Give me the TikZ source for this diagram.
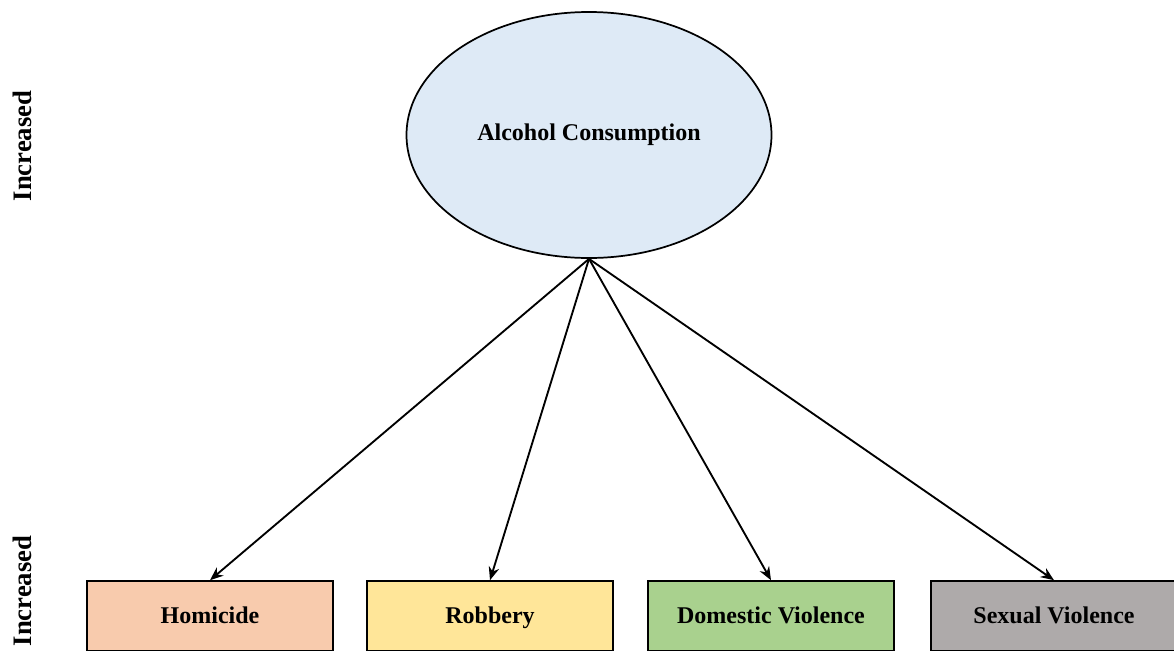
\documentclass[tikz,border=0pt]{standalone}
\usepackage{fontspec}
\setmainfont{Liberation Serif}
\usetikzlibrary{shapes.geometric,arrows.meta}
\definecolor{alcfill}{HTML}{DEEAF6}
\definecolor{homfill}{HTML}{F8CBAD}
\definecolor{robfill}{HTML}{FFE699}
\definecolor{domfill}{HTML}{A9D18E}
\definecolor{sexfill}{HTML}{AEAAAA}
\tikzset{
  causebox/.style={ellipse, draw=black, line width=1.3pt, fill=alcfill,
    minimum width=365*0.75pt, minimum height=246*0.75pt, inner sep=0pt,
    font=\fontsize{18}{20}\selectfont\bfseries},
  outcome/.style={rectangle, draw=black, line width=1.2pt,
    minimum width=246*0.75pt, minimum height=70*0.75pt, inner sep=0pt,
    text height=12.5pt, text depth=2pt,
    font=\fontsize{18}{20}\selectfont\bfseries},
  sidelabel/.style={rotate=90, inner sep=0pt, font=\fontsize{20}{22}\selectfont\bfseries},
  effect/.style={-{Stealth[length=10pt,width=8pt]}, line width=1.4pt, black}
}
\begin{document}
\begin{tikzpicture}[x=0.75pt,y=-0.75pt]
  \useasboundingbox (0,0) rectangle (1174,650);
  \node[causebox] (alc) at (589,135) {\raisebox{-2pt}{Alcohol Consumption}};
  \node[outcome, fill=homfill] (hom) at (210,616) {Homicide};
  \node[outcome, fill=robfill] (rob) at (490,616) {Robbery};
  \node[outcome, fill=domfill] (dom) at (771,616) {Domestic Violence};
  \node[outcome, fill=sexfill] (sex) at (1054,616) {Sexual Violence};
  \node[sidelabel] (inctop) at (22,146) {Increased};
  \node[sidelabel] (incbot) at (22,591) {Increased};
  \draw[effect] (alc.south) -- (hom.north);
  \draw[effect] (alc.south) -- (rob.north);
  \draw[effect] (alc.south) -- (dom.north);
  \draw[effect] (alc.south) -- (sex.north);
\end{tikzpicture}
\end{document}
